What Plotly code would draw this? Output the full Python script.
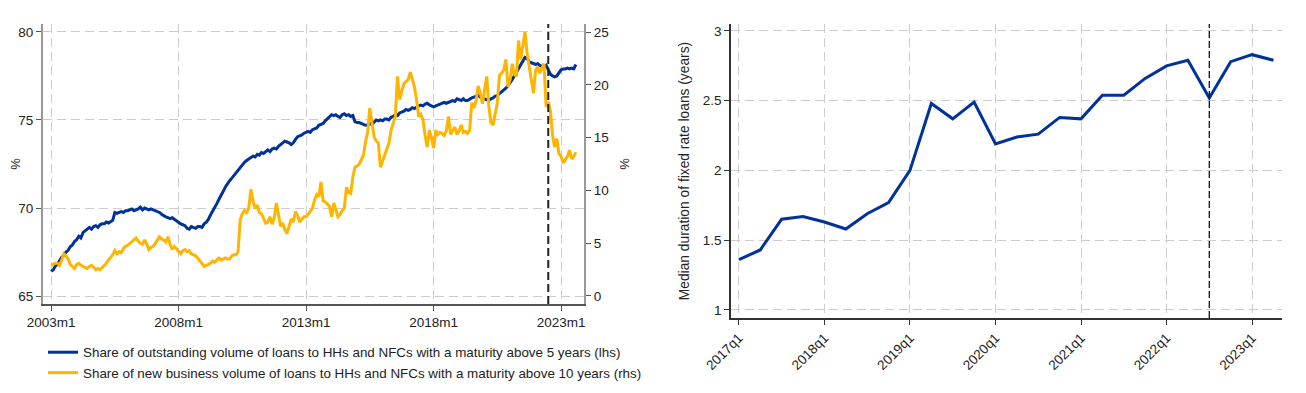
import pandas as pd
import plotly.graph_objects as go

# ---------------- Left panel data (monthly, 2003m1 - 2023m8) ----------------
start_month = "2003-01-01"
share_outstanding_5y = [  # lhs, %
    66.4, 66.5, 66.7, 66.8, 67.0, 67.2, 67.3, 67.5, 67.6, 67.8, 67.9, 68.1,
    68.2, 68.4, 68.3, 68.6, 68.7, 68.8, 68.9, 68.8, 68.95, 69.0, 68.9, 69.05,
    69.1, 69.1, 69.2, 69.15, 69.25, 69.3, 69.75, 69.7, 69.75, 69.8, 69.75, 69.85,
    69.85, 69.9, 69.95, 69.85, 69.9, 69.95, 70.05, 69.9, 70.0, 69.95, 69.9, 69.95,
    69.9, 69.85, 69.8, 69.75, 69.65, 69.55, 69.5, 69.45, 69.4, 69.45, 69.35, 69.3,
    69.2, 69.1, 69.05, 69.0, 68.85, 68.8, 68.95, 68.9, 68.85, 68.95, 68.95, 68.9,
    69.1, 69.2, 69.35, 69.6, 69.8, 70.0, 70.25, 70.5, 70.7, 70.95, 71.2, 71.4,
    71.55, 71.7, 71.85, 72.0, 72.15, 72.3, 72.45, 72.6, 72.7, 72.8, 72.85, 72.95,
    72.9, 73.05, 73.0, 73.15, 73.1, 73.2, 73.3, 73.2, 73.35, 73.4, 73.35, 73.5,
    73.6, 73.7, 73.8, 73.75, 73.7, 73.6, 73.7, 73.9, 74.05, 74.1, 74.15, 74.25,
    74.3, 74.35, 74.3, 74.45, 74.5, 74.55, 74.7, 74.75, 74.8, 74.95, 75.05, 75.2,
    75.3, 75.25, 75.3, 75.2, 75.15, 75.3, 75.35, 75.25, 75.3, 75.2, 75.25, 74.9,
    74.85, 74.85, 74.8, 74.75, 74.7, 74.7, 74.8, 74.75, 74.9, 75.0, 74.95, 75.0,
    74.95, 75.05, 75.05, 75.0, 75.15, 75.2, 75.3, 75.25, 75.4, 75.45, 75.5, 75.6,
    75.55, 75.6, 75.7, 75.65, 75.75, 75.8, 75.85, 75.8, 75.9, 75.95, 75.85, 75.8,
    75.75, 75.8, 75.85, 75.9, 75.95, 76.0, 75.95, 76.0, 76.05, 76.1, 76.05, 76.2,
    76.15, 76.1, 76.2, 76.1, 76.1, 76.2, 76.25, 76.3, 76.35, 76.4, 76.3, 76.2,
    76.2, 76.15, 76.1, 76.2, 76.25, 76.35, 76.4, 76.5, 76.6, 76.7, 76.8, 76.95,
    77.1, 77.3, 77.5, 77.7, 77.95, 78.15, 78.35, 78.55, 78.5, 78.3, 78.25, 78.2,
    78.15, 78.2, 78.1, 78.05, 78.0, 78.1, 77.85, 77.6, 77.5, 77.45, 77.5, 77.7,
    77.85, 77.9, 77.9, 77.95, 77.9, 77.95, 77.9, 78.15,
]
share_new_business_10y = [  # rhs, %
    2.9, 3.0, 3.1, 3.1, 2.9, 3.4, 4.0, 3.8, 3.5, 3.0, 2.8, 2.6,
    3.0, 3.1, 2.9, 2.8, 2.7, 2.6, 2.8, 2.9, 2.7, 2.5, 2.6, 2.5,
    2.7, 2.9, 3.1, 3.4, 3.6, 3.9, 4.3, 4.0, 4.2, 4.1, 4.5, 4.7,
    4.8, 5.0, 5.1, 5.3, 5.5, 5.2, 5.0, 4.9, 5.3, 4.9, 4.4, 4.6,
    4.7, 5.0, 5.3, 5.6, 5.4, 5.3, 5.1, 5.6, 4.9, 4.4, 4.7, 4.5,
    4.2, 4.0, 4.3, 4.4, 4.2, 4.3, 4.0, 3.9, 3.8, 3.6, 3.3, 3.0,
    2.8, 2.9, 3.0, 3.1, 3.3, 3.2, 3.4, 3.6, 3.4, 3.5, 3.6, 3.5,
    3.5, 3.8, 3.9, 3.9, 4.2, 7.2, 7.8, 8.1, 7.9, 8.3, 10.1, 9.0,
    8.3, 8.6, 7.9, 7.8, 7.3, 6.9, 7.0, 7.5, 6.8, 7.4, 8.8, 7.5,
    6.6, 6.9, 6.3, 5.9, 6.5, 7.3, 7.0, 8.0, 7.6, 7.0, 7.3, 7.5,
    7.5, 7.8, 8.0, 8.3, 9.1, 9.6, 9.4, 10.8, 9.0, 8.9, 8.7, 8.5,
    7.5, 8.8, 8.2, 7.5, 7.7, 8.1, 8.3, 10.3, 9.8, 9.7, 11.3, 12.2,
    12.3, 12.5, 12.9, 13.3, 14.6, 15.5, 17.8, 16.6, 15.1, 14.7, 14.5, 12.2,
    12.8, 13.2, 13.8, 14.5, 15.7, 16.4, 17.0, 20.8, 18.6, 19.4, 20.1, 20.3,
    20.5, 21.2, 20.6, 19.8, 18.6, 17.0, 17.2, 16.7, 15.2, 14.1, 15.7, 15.0,
    14.0, 15.7, 15.3, 15.5, 15.4, 15.2, 15.6, 17.0, 15.3, 15.6, 16.0, 15.3,
    15.6, 16.2, 15.5, 15.6, 15.4, 15.7, 18.3, 17.8, 18.5, 19.9, 19.2, 18.2,
    19.4, 20.8, 18.0, 16.4, 16.2, 17.2, 18.3, 20.9, 21.1, 21.4, 22.4, 19.8,
    20.5, 22.0, 21.0, 20.8, 24.2, 22.4, 23.5, 25.0, 23.0, 21.6, 20.5, 19.2,
    21.4, 21.7, 21.1, 21.5, 22.0, 17.9, 18.4, 17.5, 15.2, 14.1, 14.9, 13.5,
    13.2, 12.6, 12.9, 13.2, 13.8, 13.0, 13.2, 13.6,
]
left_tick_dates = ["2003-01-01", "2008-01-01", "2013-01-01", "2018-01-01", "2023-01-01"]
left_tick_labels = ["2003m1", "2008m1", "2013m1", "2018m1", "2023m1"]
left_policy_date = "2022-07-01"
name_lhs = "Share of outstanding volume of loans to HHs and NFCs with a maturity above 5 years (lhs)"
name_rhs = "Share of new business volume of loans to HHs and NFCs with a maturity above 10 years (rhs)"

# ---------------- Right panel data (quarterly, 2017q1 - 2023q2) ----------------
quarters = [f"{y}q{q}" for y in range(2017, 2024) for q in range(1, 5)][:26]
median_duration = [
    1.36, 1.43, 1.65, 1.67, 1.63, 1.58, 1.69, 1.77,
    2.00, 2.48, 2.37, 2.49, 2.19, 2.24, 2.26, 2.38,
    2.37, 2.54, 2.54, 2.66, 2.75, 2.79, 2.52, 2.78,
    2.83, 2.79,
]
right_tick_labels = ["2017q1", "2018q1", "2019q1", "2020q1", "2021q1", "2022q1", "2023q1"]
right_policy_quarter = "2022q3"

months = pd.date_range(start_month, periods=len(share_outstanding_5y), freq="MS")
q_index = list(range(len(quarters)))

BLUE = "#003299"
YELLOW = "#FFB400"
FONT = "Liberation Sans, Arial, sans-serif"
GRID = "#cccccc"
GDASH = "9px,5px"

fig = go.Figure()
fig.add_trace(go.Scatter(x=months, y=share_outstanding_5y, name=name_lhs, mode="lines",
                         line=dict(color=BLUE, width=3), xaxis="x", yaxis="y"))
fig.add_trace(go.Scatter(x=months, y=share_new_business_10y, name=name_rhs, mode="lines",
                         line=dict(color=YELLOW, width=3), xaxis="x", yaxis="y2"))
fig.add_trace(go.Scatter(x=q_index, y=median_duration, mode="lines", showlegend=False,
                         line=dict(color=BLUE, width=3), xaxis="x2", yaxis="y3"))

W, H = 1306, 393
OFF = 8  # page body offset
def px_x(a, b):
    return [(a - OFF) / W, (b - OFF) / W]
def px_y(top, bottom):
    return [1 - (bottom - OFF) / H, 1 - (top - OFF) / H]

tickfont = dict(family=FONT, size=13.5, color="#222")
titlefont = dict(family=FONT, size=13, color="#222")

fig.update_layout(
    width=W, height=H,
    margin=dict(l=0, r=0, t=0, b=0, autoexpand=False),
    paper_bgcolor="white", plot_bgcolor="white",
    font=dict(family=FONT, size=13, color="#222"),
    xaxis=dict(domain=px_x(43, 584), anchor="y", type="date", automargin=False,
               range=["2002-09-06", "2023-11-25"],
               tickvals=left_tick_dates, ticktext=left_tick_labels,
               showgrid=True, gridcolor=GRID, griddash=GDASH, gridwidth=1.3,
               showline=True, linecolor="#555", linewidth=1.5,
               ticks="outside", ticklen=5, tickcolor="#555", tickfont=tickfont,
               zeroline=False),
    yaxis=dict(domain=px_y(24, 304), anchor="x", range=[64.55, 80.45], automargin=False,
               tickvals=[65, 70, 75, 80],
               showgrid=True, gridcolor=GRID, griddash=GDASH, gridwidth=1.3,
               showline=True, linecolor="#999", linewidth=2,
               ticks="outside", ticklen=5, tickcolor="#555", tickfont=tickfont,
               zeroline=False,
               title=dict(text="%", font=titlefont, standoff=12)),
    yaxis2=dict(overlaying="y", side="right", anchor="x", range=[-0.76, 25.76], automargin=False,
                tickvals=[0, 5, 10, 15, 20, 25], showgrid=False,
                showline=True, linecolor="#999", linewidth=2,
                ticks="outside", ticklen=5, tickcolor="#555", tickfont=tickfont,
                zeroline=False,
                title=dict(text="%", font=titlefont, standoff=12)),
    xaxis2=dict(domain=px_x(731, 1282), anchor="y3", range=[-0.37, 25.4], automargin=False,
                tickvals=[quarters.index(t) for t in right_tick_labels], ticktext=right_tick_labels,
                tickangle=-45,
                showgrid=True, gridcolor=GRID, griddash=GDASH, gridwidth=1.3,
                showline=True, linecolor="#333", linewidth=1.5,
                ticks="outside", ticklen=5, tickcolor="#333", tickfont=tickfont,
                zeroline=False),
    yaxis3=dict(domain=px_y(24, 318), anchor="x2", range=[0.942, 3.05], automargin=False,
                tickvals=[1, 1.5, 2, 2.5, 3], ticktext=["1", "1.5", "2", "2.5", "3"],
                showgrid=True, gridcolor=GRID, griddash=GDASH, gridwidth=1.3,
                showline=True, linecolor="#333", linewidth=1.5,
                ticks="outside", ticklen=5, tickcolor="#333", tickfont=tickfont,
                zeroline=False,
                title=dict(text="Median duration of fixed rate loans (years)",
                           font=dict(family=FONT, size=13.8, color="#222"), standoff=10)),
    legend=dict(x=(43 - OFF) / W, y=1 - (337 - OFF) / H, xanchor="left", yanchor="top",
                orientation="v", font=dict(family=FONT, size=13.4, color="#222"),
                bgcolor="rgba(0,0,0,0)", itemwidth=30, tracegroupgap=0),
    showlegend=True,
)

fig.add_shape(type="line", xref="x", yref="y domain",
              x0=left_policy_date, x1=left_policy_date, y0=0, y1=1,
              line=dict(color="#222", width=2, dash="8px,4px"))
qi = quarters.index(right_policy_quarter)
fig.add_shape(type="line", xref="x2", yref="y3 domain",
              x0=qi, x1=qi, y0=0, y1=1,
              line=dict(color="#111", width=1.3, dash="7px,3px"))

fig.write_html("out.html")
